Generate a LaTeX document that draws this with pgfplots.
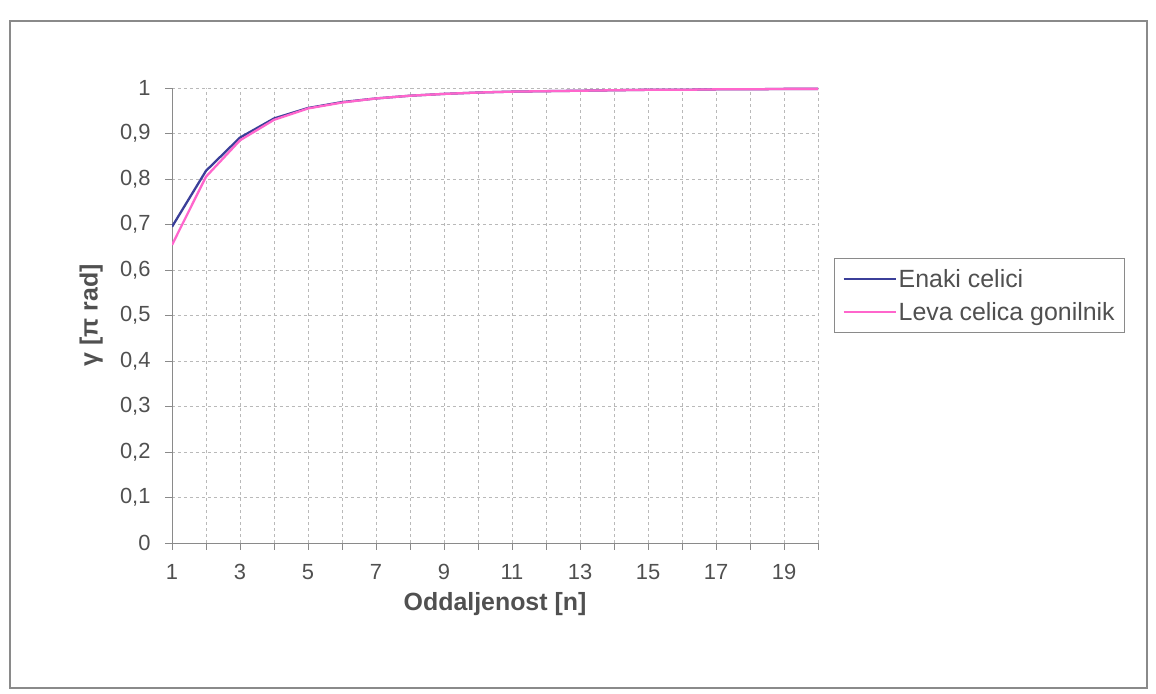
\documentclass[border=0pt]{standalone}
\usepackage{pgfplots}
\pgfplotsset{compat=1.18}
\usepackage{fontspec}
\setmainfont{Liberation Sans}
\definecolor{txt}{HTML}{505050}
\definecolor{blueS}{HTML}{3B3F99}
\definecolor{pinkS}{HTML}{FF66CC}
\definecolor{axc}{HTML}{8A8A8A}
\begin{document}
\begin{tikzpicture}[x=1bp,y=1bp]
\path[use as bounding box] (0,0) rectangle (1156,694);
\draw[axc, line width=1.5bp] (10,6) rectangle (1147,673);
\begin{axis}[
  at={(172bp,151bp)}, anchor=south west,
  scale only axis, width=646bp, height=455bp,
  xmin=1, xmax=20, ymin=0, ymax=1,
  axis x line*=bottom, axis y line*=left,
  axis line style={axc, line width=0.9bp},
  xtick={1,...,20},
  xticklabels={1,,3,,5,,7,,9,,11,,13,,15,,17,,19,},
  ytick={0,0.1,0.2,0.3,0.4,0.5,0.6,0.7,0.8,0.9,1},
  yticklabels={0,{0,1},{0,2},{0,3},{0,4},{0,5},{0,6},{0,7},{0,8},{0,9},1},
  tick align=outside, major tick length=7bp,
  tick style={axc, line width=0.9bp},
  grid=major, grid style={dashed, gray!55, line width=0.6bp},
  every tick label/.append style={font=\fontsize{22}{26}\selectfont, text=txt},
  xticklabel style={yshift=-11bp},
  yticklabel style={xshift=-11bp},
  xlabel={\textbf{Oddaljenost [n]}},
  ylabel={\textbf{γ [π rad]}},
  label style={font=\fontsize{25}{30}\selectfont, text=txt},
  xlabel style={at={(axis description cs:0.5,-0.134)}, anchor=center},
  ylabel style={at={(axis description cs:-0.125,0.5)}, anchor=center},
  legend style={at={(axis description cs:1.0248,0.626)}, anchor=north west,
    draw=axc, line width=0.8bp, font=\fontsize{25}{30}\selectfont, text=txt,
    inner xsep=8bp, inner ysep=9bp, row sep=9bp},
  legend cell align=left,
  legend image code/.code={\draw[#1, line width=2.3bp] (0bp,0bp) -- (52bp,0bp);},
]
\addplot[blueS, line width=2.3bp] coordinates {
(1,0.695) (2,0.818) (3,0.891) (4,0.933) (5,0.956) (6,0.969) (7,0.977) (8,0.983) (9,0.987) (10,0.990)
(11,0.992) (12,0.993) (13,0.994) (14,0.995) (15,0.996) (16,0.996) (17,0.997) (18,0.997) (19,0.998) (20,0.998)};
\addlegendentry{Enaki celici}
\addplot[pinkS, line width=2.3bp] coordinates {
(1,0.655) (2,0.805) (3,0.885) (4,0.930) (5,0.955) (6,0.968) (7,0.977) (8,0.983) (9,0.987) (10,0.990)
(11,0.992) (12,0.993) (13,0.994) (14,0.995) (15,0.996) (16,0.996) (17,0.997) (18,0.997) (19,0.998) (20,0.998)};
\addlegendentry{Leva celica gonilnik}
\end{axis}
\end{tikzpicture}
\end{document}
